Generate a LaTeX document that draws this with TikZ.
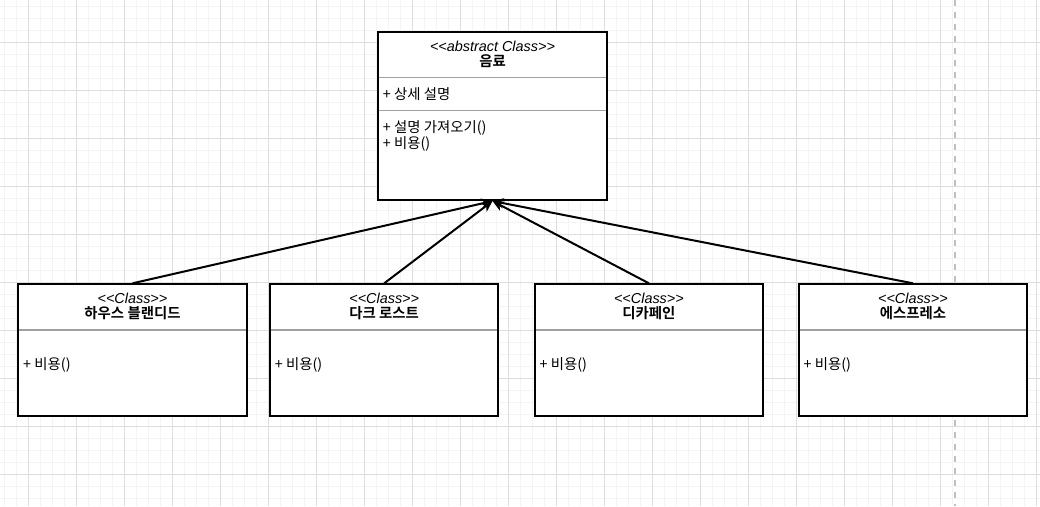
\documentclass[tikz,border=0pt]{standalone}
\usepackage{fontspec}
\setmainfont{Liberation Sans}
\newfontfamily\kr{Noto Sans CJK KR}[BoldFont={Noto Sans CJK KR Bold}]
\usetikzlibrary{arrows.meta}
\definecolor{gridminor}{RGB}{244,244,244}
\definecolor{gridmajor}{RGB}{222,222,222}
\definecolor{divider}{RGB}{160,160,160}
\definecolor{dashgray}{RGB}{192,192,192}
\begin{document}
\begin{tikzpicture}[x=1pt,y=-1pt,
  classbox/.style={draw=black, line width=2pt, fill=white, inner sep=0pt},
  stereo/.style={font=\fontsize{14.4}{17}\selectfont\itshape, anchor=base, inner sep=0pt},
  cname/.style={font=\fontsize{14.4}{17}\selectfont\kr\bfseries, anchor=base, inner sep=0pt},
  member/.style={font=\fontsize{14.4}{17}\selectfont\kr, anchor=base west, inner sep=0pt},
  sepline/.style={draw=divider, line width=1.2pt},
  minorline/.style={draw=gridminor, line width=1.5pt},
  majorline/.style={draw=gridmajor, line width=1pt},
  inherit/.style={draw=black, line width=2pt, -{Stealth[length=11pt,width=10pt,inset=3pt]}},
]
\fill[white] (0,0) rectangle (1040,506);
\useasboundingbox (0,0) rectangle (1040,506);
% grid
\foreach \i in {0,...,86} \draw[minorline] ({4.7+12*\i},0) -- ({4.7+12*\i},506);
\foreach \j in {0,...,41} \draw[minorline] (0,{6.7+12*\j}) -- (1040,{6.7+12*\j});
\foreach \i in {0,...,21} \draw[majorline] ({28.7+48*\i},0) -- ({28.7+48*\i},506);
\foreach \j in {0,...,9} \draw[majorline] (0,{42.7+48*\j}) -- (1040,{42.7+48*\j});
% dashed page break
\draw[dashgray, line width=2pt, dash pattern=on 6pt off 6pt] (955,0) -- (955,506);

% abstract class
\node[classbox, minimum width=228.4pt, minimum height=167.7pt] (bev) at (492.5,116.2) {};
\draw[sepline] (379.3,77.7) -- (605.7,77.7);
\draw[sepline] (379.3,110.3) -- (605.7,110.3);
\node[stereo] (bevst) at (492.5,51) {<{}<abstract Class>{}>};
\node[cname] (bevname) at (492.5,66.5) {음료};
\node[member] (bevattr) at (382.7,99.8) {+ 상세 설명};
\node[member] (bevop1) at (382.7,132.2) {+ 설명 가져오기()};
\node[member] (bevop2) at (382.7,148.8) {+ 비용()};

% subclasses
\foreach \n/\cx/\title in {c1/132.5/하우스 블랜디드, c2/384.2/다크 로스트, c3/648.9/디카페인, c4/912.9/에스프레소}{
  \node[classbox, minimum width=228.3pt, minimum height=132pt] (\n) at (\cx,350.3) {};
  \draw[sepline] ({\cx-113.2},330) -- ({\cx+113.2},330);
  \node[stereo] (\n st) at (\cx,303) {<{}<Class>{}>};
  \node[cname] (\n name) at (\cx,318.8) {\title};
  \node[member] (\n op) at ({\cx-109.5},369) {+ 비용()};
}

% generalization arrows
\draw[inherit] (c1.north) -- (bev.south);
\draw[inherit] (c2.north) -- (bev.south);
\draw[inherit] (c3.north) -- (bev.south);
\draw[inherit] (c4.north) -- (bev.south);
\end{tikzpicture}
\end{document}
